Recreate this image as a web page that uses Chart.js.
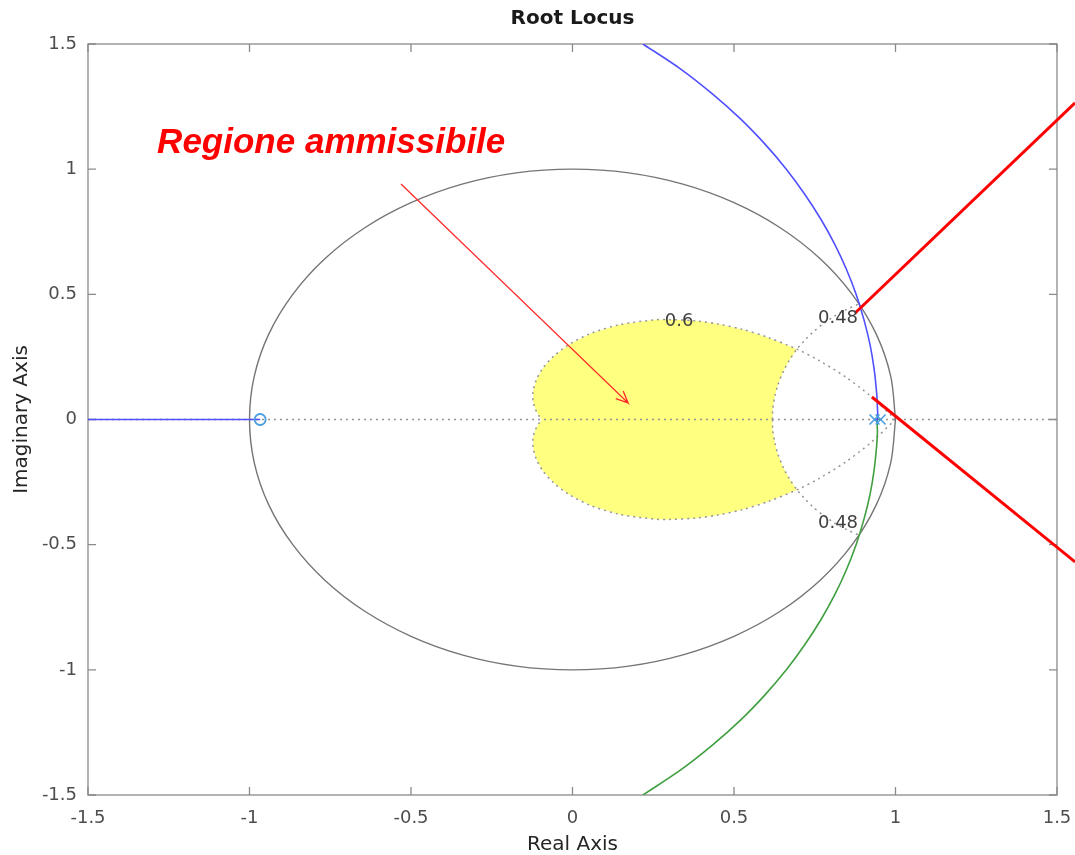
<!DOCTYPE html>
<html>
<head>
<meta charset="utf-8">
<title>Root Locus</title>
<script src="https://cdn.jsdelivr.net/npm/chart.js@4.4.1/dist/chart.umd.min.js"></script>
<style>
  html, body { margin: 0; padding: 0; background: #ffffff; }
  #wrap { width: 1075px; height: 855px; }
</style>
</head>
<body>
<div id="wrap"><canvas id="rl" width="1075" height="855"></canvas></div>
<script>
// ---- axis ticks ----
const axisTicks = [-1.5, -1, -0.5, 0, 0.5, 1, 1.5];

// ---- open-loop poles and zero ----
const poleRe = [0.935, 0.954];
const poleIm = [0, 0];
const zeroRe = [-0.967];
const zeroIm = [0];

// ---- root locus branches ----
const locusRealRe = [-0.967, -1.5];
const locusRealIm = [0, 0];
const locusUpRe = [0.935, 0.944, 0.944, 0.942, 0.934, 0.921, 0.902, 0.878, 0.848, 0.812, 0.769, 0.719, 0.662, 0.596, 0.521, 0.434, 0.335, 0.218];
const locusUpIm = [0, 0, 0.05, 0.1, 0.2, 0.3, 0.4, 0.5, 0.6, 0.7, 0.8, 0.9, 1.0, 1.1, 1.2, 1.3, 1.4, 1.5];
const locusLoRe = [0.954, 0.944, 0.944, 0.942, 0.934, 0.921, 0.902, 0.878, 0.848, 0.812, 0.769, 0.719, 0.662, 0.596, 0.521, 0.434, 0.335, 0.218];
const locusLoIm = [0, 0, -0.05, -0.1, -0.2, -0.3, -0.4, -0.5, -0.6, -0.7, -0.8, -0.9, -1.0, -1.1, -1.2, -1.3, -1.4, -1.5];

// ---- unit circle ----
const circleRe = [1, 0.985, 0.940, 0.866, 0.766, 0.643, 0.5, 0.342, 0.174, 0, -0.174, -0.342, -0.5, -0.643, -0.766, -0.866, -0.940, -0.985,
                  -1, -0.985, -0.940, -0.866, -0.766, -0.643, -0.5, -0.342, -0.174, 0, 0.174, 0.342, 0.5, 0.643, 0.766, 0.866, 0.940, 0.985, 1];
const circleIm = [0, 0.174, 0.342, 0.5, 0.643, 0.766, 0.866, 0.940, 0.985, 1, 0.985, 0.940, 0.866, 0.766, 0.643, 0.5, 0.342, 0.174,
                  0, -0.174, -0.342, -0.5, -0.643, -0.766, -0.866, -0.940, -0.985, -1, -0.985, -0.940, -0.866, -0.766, -0.643, -0.5, -0.342, -0.174, 0];

// ---- grid: damping 0.6 curve ----
const zetaRe = [1.000, 0.923, 0.844, 0.763, 0.695, 0.603, 0.526, 0.452, 0.382, 0.300, 0.255, 0.147, 0.059, -0.009, -0.059, -0.093, -0.113, -0.122, -0.122, -0.115, -0.104, -0.095];
const zetaImUp = [0, 0.093, 0.171, 0.236, 0.281, 0.329, 0.360, 0.381, 0.394, 0.399, 0.398, 0.379, 0.345, 0.301, 0.252, 0.203, 0.155, 0.112, 0.073, 0.041, 0.015, 0];
const zetaImLo = [0, -0.093, -0.171, -0.236, -0.281, -0.329, -0.360, -0.381, -0.394, -0.399, -0.398, -0.379, -0.345, -0.301, -0.252, -0.203, -0.155, -0.112, -0.073, -0.041, -0.015, 0];
const zetaCorner = 4;

// ---- grid: natural frequency 0.48 curve ----
const wnRe = [0.619, 0.620, 0.627, 0.635, 0.653, 0.673, 0.695, 0.720, 0.747, 0.777, 0.810, 0.846, 0.887];
const wnImUp = [0, 0.042, 0.095, 0.135, 0.193, 0.240, 0.281, 0.318, 0.352, 0.383, 0.412, 0.438, 0.462];
const wnImLo = [0, -0.042, -0.095, -0.135, -0.193, -0.240, -0.281, -0.318, -0.352, -0.383, -0.412, -0.438, -0.462];
const wnCorner = 6;

// ---- grid labels ----
const gridLabels = ['0.6', '0.48', '0.48'];
const gridLabelRe = [0.33, 0.822, 0.822];
const gridLabelIm = [0.393, 0.405, -0.413];

// ---- annotations ----
const captionText = 'Regione ammissibile';
const captionRe = -1.286;
const captionIm = 1.065;
const arrowRe = [-0.531, 0.172, 0.157, 0.172, 0.134];
const arrowIm = [0.941, 0.066, 0.114, 0.066, 0.083];
const pointerARe = [0.875, 1.556];
const pointerAIm = [0.4255, 1.2645];
const pointerBRe = [0.927, 1.556];
const pointerBIm = [0.09, -0.569];

function pts(re, im) { return re.map((v, i) => ({ x: v, y: im[i] })); }

// admissible region: bounded by the wn curve and the damping curve
const region = [];
for (let i = 0; i <= wnCorner; i++) region.push({ x: wnRe[i], y: wnImUp[i] });
for (let i = zetaCorner + 1; i < zetaRe.length; i++) region.push({ x: zetaRe[i], y: zetaImUp[i] });
for (let i = zetaRe.length - 2; i >= zetaCorner; i--) region.push({ x: zetaRe[i], y: zetaImLo[i] });
for (let i = wnCorner - 1; i >= 0; i--) region.push({ x: wnRe[i], y: wnImLo[i] });

const FONT = 'DejaVu Sans';
const dotted = { borderColor: '#959595', borderWidth: 1.5, borderDash: [2, 4], tension: 0.3, order: 15 };
const base = { showLine: true, pointRadius: 0, fill: false, tension: 0 };

const decorations = {
  id: 'decorations',
  beforeDatasetsDraw(chart) {
    const { ctx, chartArea: { left, right, top, bottom }, scales: { x, y } } = chart;
    ctx.save();
    ctx.strokeStyle = '#8a8a8a';
    ctx.lineWidth = 1.3;
    ctx.strokeRect(left, top, right - left, bottom - top);
    ctx.beginPath();
    x.ticks.forEach(t => {
      const p = x.getPixelForValue(t.value);
      ctx.moveTo(p, bottom); ctx.lineTo(p, bottom - 8);
      ctx.moveTo(p, top); ctx.lineTo(p, top + 8);
    });
    y.ticks.forEach(t => {
      const p = y.getPixelForValue(t.value);
      ctx.moveTo(left, p); ctx.lineTo(left + 8, p);
      ctx.moveTo(right, p); ctx.lineTo(right - 8, p);
    });
    ctx.stroke();
    ctx.restore();
  },
  afterDatasetsDraw(chart) {
    const { ctx, chartArea: { left, right }, scales: { x, y } } = chart;
    ctx.save();
    // grid labels
    ctx.font = '18px "' + FONT + '"';
    ctx.fillStyle = '#404040';
    ctx.textAlign = 'center';
    ctx.textBaseline = 'middle';
    gridLabels.forEach((s, i) => {
      ctx.fillText(s, x.getPixelForValue(gridLabelRe[i]), y.getPixelForValue(gridLabelIm[i]));
    });
    // title
    ctx.font = 'bold 20px "' + FONT + '"';
    ctx.fillStyle = '#1a1a1a';
    ctx.fillText('Root Locus', (left + right) / 2, 18.5);
    // caption
    ctx.font = 'italic bold 35px "Liberation Sans"';
    ctx.fillStyle = '#ff0000';
    ctx.textAlign = 'left';
    ctx.textBaseline = 'alphabetic';
    ctx.fillText(captionText, x.getPixelForValue(captionRe), y.getPixelForValue(captionIm));
    ctx.restore();
  }
};

new Chart(document.getElementById('rl'), {
  type: 'scatter',
  data: {
    datasets: [
      { ...base, data: region, fill: 'shape', backgroundColor: '#ffff80', borderColor: 'rgba(0,0,0,0)', borderWidth: 0, order: 20 },
      { ...base, ...dotted, data: [{ x: -1.5, y: 0 }, { x: 1.5, y: 0 }], tension: 0 },
      { ...base, ...dotted, data: pts(zetaRe, zetaImUp) },
      { ...base, ...dotted, data: pts(zetaRe, zetaImLo) },
      { ...base, ...dotted, data: pts(wnRe, wnImUp) },
      { ...base, ...dotted, data: pts(wnRe, wnImLo) },
      { ...base, data: pts(circleRe, circleIm), borderColor: '#757575', borderWidth: 1.4, tension: 0.33, order: 12 },
      { ...base, data: pts(locusRealRe, locusRealIm), borderColor: '#5050ff', borderWidth: 1.6, order: 8 },
      { ...base, data: pts(locusUpRe, locusUpIm), borderColor: '#5050ff', borderWidth: 1.6, tension: 0.3, order: 8 },
      { ...base, data: pts(locusLoRe, locusLoIm), borderColor: '#3f9f3f', borderWidth: 1.6, tension: 0.3, order: 8 },
      { data: pts(poleRe, poleIm), showLine: false, pointStyle: 'crossRot', pointRadius: 7, pointBorderWidth: 1.6,
        pointBorderColor: '#4a9ee0', pointBackgroundColor: 'rgba(0,0,0,0)', order: 5 },
      { data: pts(zeroRe, zeroIm), showLine: false, pointStyle: 'circle', pointRadius: 5.5, pointBorderWidth: 1.8,
        pointBorderColor: '#4a9ee0', pointBackgroundColor: 'rgba(0,0,0,0)', order: 5 },
      { ...base, data: pts(arrowRe, arrowIm), borderColor: '#ff2a2a', borderWidth: 1.3, order: 2, clip: false },
      { ...base, data: pts(pointerARe, pointerAIm), borderColor: '#ff0000', borderWidth: 3, order: 1, clip: false },
      { ...base, data: pts(pointerBRe, pointerBIm), borderColor: '#ff0000', borderWidth: 3, order: 1, clip: false }
    ]
  },
  options: {
    responsive: false,
    animation: false,
    events: [],
    devicePixelRatio: 1,
    layout: { autoPadding: false, padding: { top: 44, right: 18, bottom: 0, left: 0 } },
    plugins: { legend: { display: false }, tooltip: { enabled: false }, title: { display: false } },
    scales: {
      x: {
        type: 'linear', min: -1.5, max: 1.5,
        afterBuildTicks: s => { s.ticks = axisTicks.map(v => ({ value: v })); },
        afterFit: s => { s.height = 60; s.paddingLeft = 0; s.paddingRight = 0; },
        grid: { display: false, drawTicks: false }, border: { display: false },
        ticks: { padding: 13, color: '#4d4d4d', font: { family: FONT, size: 18 }, maxRotation: 0, autoSkip: false, callback: v => String(v) },
        title: { display: true, text: 'Real Axis', color: '#262626', font: { family: FONT, size: 20, lineHeight: 1 }, padding: { top: 0, bottom: 0 } }
      },
      y: {
        type: 'linear', min: -1.5, max: 1.5,
        afterBuildTicks: s => { s.ticks = axisTicks.map(v => ({ value: v })); },
        afterFit: s => { s.width = 88; s.paddingTop = 0; s.paddingBottom = 0; },
        grid: { display: false, drawTicks: false }, border: { display: false },
        ticks: { padding: 11, color: '#4d4d4d', font: { family: FONT, size: 18 }, autoSkip: false, callback: v => String(v) },
        title: { display: true, text: 'Imaginary Axis', color: '#262626', font: { family: FONT, size: 20, lineHeight: 1 }, padding: { top: 12, bottom: 0 } }
      }
    }
  },
  plugins: [decorations]
});
</script>
</body>
</html>
